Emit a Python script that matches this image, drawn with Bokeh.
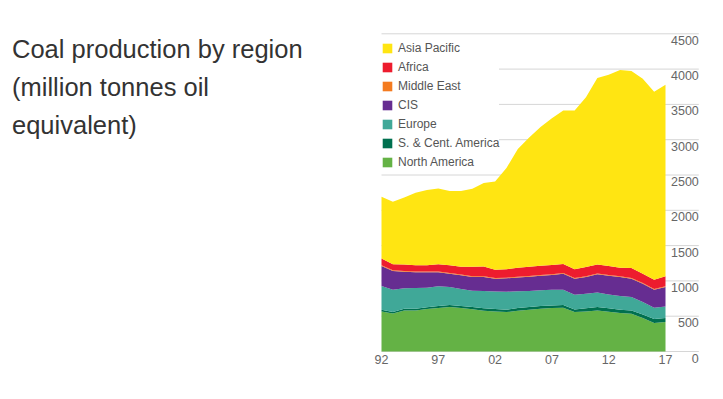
from bokeh.plotting import figure
from bokeh.models import ColumnDataSource, Legend, LegendItem, Range1d
from bokeh.core.properties import value
from bokeh.embed import file_html
from bokeh.resources import INLINE

years = list(range(1992, 2018))
north_america = [568, 540, 582, 582, 601, 615, 630, 615, 600, 577, 568, 558, 577, 592, 606, 615, 620, 558, 568, 582, 563, 544, 535, 473, 402, 417]
s_cent_america = [22, 20, 23, 25, 27, 28, 30, 30, 30, 35, 33, 34, 38, 38, 38, 38, 38, 38, 43, 48, 48, 48, 47, 52, 60, 56]
europe = [338, 316, 290, 292, 276, 280, 253, 240, 232, 245, 250, 255, 240, 227, 222, 223, 218, 209, 208, 204, 198, 194, 189, 175, 156, 166]
cis = [284, 265, 236, 223, 218, 199, 190, 194, 195, 199, 180, 189, 194, 203, 208, 208, 227, 227, 236, 260, 265, 269, 261, 261, 256, 274]
middle_east = [10, 10, 10, 10, 10, 10, 10, 10, 10, 10, 10, 10, 10, 10, 10, 10, 10, 10, 10, 10, 10, 10, 10, 10, 10, 10]
africa = [94, 84, 90, 89, 89, 103, 108, 113, 132, 137, 118, 118, 128, 132, 132, 132, 127, 122, 132, 128, 128, 123, 141, 132, 132, 142]
asia_pacific = [875, 885, 951, 1027, 1065, 1075, 1051, 1070, 1108, 1183, 1249, 1436, 1681, 1828, 1964, 2078, 2172, 2248, 2403, 2641, 2707, 2800, 2790, 2762, 2664, 2712]

series_names = ["North America", "S. & Cent. America", "Europe", "CIS", "Middle East", "Africa", "Asia Pacific"]
series_keys = ["na", "sca", "eu", "cis", "me", "af", "ap"]
series_colors = ["#64b245", "#00704f", "#40a898", "#662d91", "#f47b20", "#ed1c2e", "#ffe512"]

x_tick_years = [1992, 1997, 2002, 2007, 2012, 2017]
x_tick_labels = ["92", "97", "02", "07", "12", "17"]
y_tick_values = [0, 500, 1000, 1500, 2000, 2500, 3000, 3500, 4000, 4500]
y_tick_labels = ["0", "500", "1000", "1500", "2000", "2500", "3000", "3500", "4000", "4500"]

title_lines = ["Coal production by region", "(million tonnes oil", "equivalent)"]

FONT = "Liberation Sans"

# ---- geometry (pixels of the page) ----
W, H = 706, 383
px_per_year = 284.0 / 25.0          # 1992 at x=381, 2017 at x=665
x0_pix = 381.0
px_per_unit = (351.0 - 33.3) / 4500.0  # 0 at y=351, 4500 at y=33.3
y0_pix = 351.0

def xd(px):
    return 1992 + (px - x0_pix) / px_per_year

def yd(py):
    return (y0_pix - py) / px_per_unit

p = figure(width=W, height=H, output_backend="svg", toolbar_location=None,
           x_axis_location=None, y_axis_location=None, title=None,
           x_range=Range1d(xd(0), xd(W)), y_range=Range1d(yd(H), yd(0)),
           min_border_left=0, min_border_right=0, min_border_top=0, min_border_bottom=0)
p.outline_line_color = None
p.xgrid.visible = False
p.ygrid.visible = False

grid_end = xd(698.3)

# horizontal gridlines behind the areas
p.segment(x0=[1992] * len(y_tick_values), x1=[grid_end] * len(y_tick_values),
          y0=y_tick_values, y1=y_tick_values, line_color="#d6d6d6", line_width=1)

src = ColumnDataSource(dict(year=years, na=north_america, sca=s_cent_america, eu=europe,
                            cis=cis, me=middle_east, af=africa, ap=asia_pacific))
rs = p.varea_stack(stackers=series_keys, x="year", color=series_colors, source=src)

# tick labels
p.text(x=x_tick_years, y=[0] * len(x_tick_years), text=x_tick_labels,
       text_font=value(FONT), text_font_size="12.5px", text_color="#666666",
       text_align="center", text_baseline="top", y_offset=3)
p.text(x=[grid_end] * len(y_tick_values), y=y_tick_values, text=y_tick_labels,
       text_font=value(FONT), text_font_size="12.5px", text_color="#666666",
       text_align="right", text_baseline="top", y_offset=2)

# title block on the left
p.text(x=[xd(11.5)] * 3, y=[yd(48.5), yd(86.3), yd(124.1)], text=title_lines,
       text_font=value(FONT), text_font_size="25.5px", text_color="#333333",
       text_align="left", text_baseline="alphabetic")

items = [LegendItem(label=n, renderers=[r]) for n, r in zip(series_names, rs)][::-1]
legend = Legend(items=items, location=(381, 214), orientation="vertical",
                glyph_width=12, glyph_height=12, label_height=12, label_width=10,
                spacing=5, padding=0, margin=0, label_standoff=5,
                label_text_font=FONT, label_text_font_size="12px", label_text_color="#555555",
                background_fill_color="white", background_fill_alpha=1.0,
                border_line_color=None)
p.add_layout(legend, "center")

open("out.html", "w").write(file_html(p, INLINE))
